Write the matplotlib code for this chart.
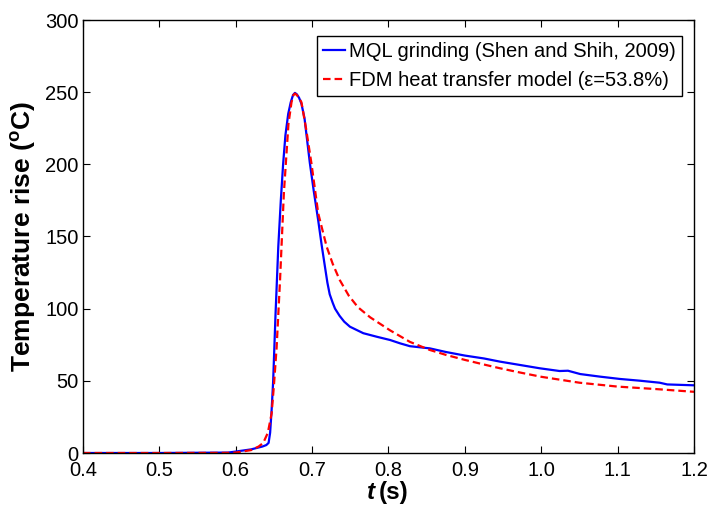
import matplotlib
matplotlib.use("Agg")
import matplotlib.pyplot as plt
import numpy as np

plt.rcParams['font.family'] = ['Liberation Sans', 'DejaVu Sans']
plt.rcParams['mathtext.fontset'] = 'custom'
plt.rcParams['mathtext.rm'] = 'Liberation Sans'
plt.rcParams['mathtext.bf'] = 'Liberation Sans:bold'
plt.rcParams['mathtext.it'] = 'Liberation Sans:italic'

# Measured MQL grinding (Shen and Shih, 2009)
t_mql = [0.40, 0.50, 0.59, 0.60, 0.62, 0.635, 0.64, 0.643, 0.645, 0.647, 0.649, 0.652,
         0.6557, 0.659, 0.662, 0.665, 0.6687, 0.672, 0.675, 0.6775, 0.680, 0.683,
         0.686, 0.690, 0.697, 0.702, 0.708, 0.7125, 0.7168, 0.720, 0.723, 0.727,
         0.730, 0.736, 0.742, 0.7495, 0.767, 0.785, 0.802, 0.815, 0.828, 0.854,
         0.875, 0.900, 0.925, 0.946, 0.972, 0.998, 1.024, 1.035, 1.051, 1.077,
         1.103, 1.129, 1.155, 1.165, 1.200]
T_mql = [0.0, 0.0, 0.3, 1.0, 2.5, 4.5, 5.5, 7.0, 14.0, 30.0, 50.0, 95.0,
         143.0, 175.0, 200.0, 220.0, 235.0, 243.0, 248.0, 249.5, 248.5, 246.0,
         242.0, 232.0, 201.0, 182.0, 161.0, 144.0, 129.0, 118.0, 110.0, 104.0,
         100.0, 95.0, 91.0, 87.5, 83.0, 80.5, 78.3, 76.0, 74.0, 72.5,
         70.0, 67.5, 65.5, 63.3, 61.0, 58.7, 56.8, 57.0, 54.7, 52.9,
         51.3, 50.1, 48.7, 47.5, 46.9]

# FDM heat transfer model
t_fdm = [0.40, 0.50, 0.59, 0.60, 0.62, 0.63, 0.636, 0.642, 0.647, 0.650, 0.6535,
         0.658, 0.663, 0.669, 0.673, 0.6755, 0.6775, 0.680, 0.683, 0.686, 0.692,
         0.699, 0.708, 0.719, 0.727, 0.736, 0.748, 0.760, 0.776, 0.802, 0.828,
         0.854, 0.875, 0.900, 0.925, 0.946, 0.970, 1.000, 1.050, 1.100, 1.150, 1.200]
T_fdm = [0.0, 0.0, 0.1, 0.3, 2.0, 4.5, 7.0, 14.0, 27.5, 47.0, 73.0,
         120.0, 180.0, 228.0, 243.0, 248.0, 249.0, 248.0, 246.0, 243.0, 225.0,
         201.0, 166.0, 143.0, 131.0, 120.0, 109.0, 101.0, 94.0, 85.0, 77.0,
         71.4, 68.0, 64.5, 61.3, 58.7, 56.0, 52.8, 48.7, 46.0, 44.3, 42.4]

x_ticks = [0.4, 0.5, 0.6, 0.7, 0.8, 0.9, 1.0, 1.1, 1.2]
x_ticklabels = ['0.4', '0.5', '0.6', '0.7', '0.8', '0.9', '1.0', '1.1', '1.2']
y_ticks = [0, 50, 100, 150, 200, 250, 300]

fig = plt.figure(figsize=(7.08, 5.11), dpi=100)
ax = fig.add_axes([83/708, 58/511, 611/708, 433/511])

ax.plot(t_mql, T_mql, color='#0000ff', lw=1.6, label='MQL grinding (Shen and Shih, 2009)')
ax.plot(t_fdm, T_fdm, color='#ff0000', lw=1.6, ls=(0, (3.4, 1.8)),
        label='FDM heat transfer model (\u03b5=53.8%)')

ax.set_xlim(0.4, 1.2)
ax.set_ylim(0, 300)
ax.set_xticks(x_ticks)
ax.set_xticklabels(x_ticklabels)
ax.set_yticks(y_ticks)
ax.tick_params(direction='in', length=5, width=0.8, top=True, right=True,
               labelsize=14.5, pad=3, colors='black')
ax.tick_params(axis='x', pad=6)
for s in ax.spines.values():
    s.set_linewidth(1.0)

ax.set_ylabel('Temperature rise ($^{\\mathbf{o}}$C)', fontsize=19, fontweight='bold', labelpad=5)

fig.text(375/708, 12/511, 't', fontsize=17.5, fontweight='bold', fontstyle='italic', ha='right', va='baseline')
fig.text(379/708, 12/511, '(s)', fontsize=17.5, fontweight='bold', ha='left', va='baseline')

leg = ax.legend(loc='upper right', bbox_to_anchor=(0.9804, 0.963), borderaxespad=0,
                fontsize=14.5, handlelength=1.1, handletextpad=0.2, borderpad=0.3,
                labelspacing=0.5, fancybox=False, framealpha=1, edgecolor='black')
leg.get_frame().set_linewidth(1.0)

fig.savefig('out.png', dpi=100)
